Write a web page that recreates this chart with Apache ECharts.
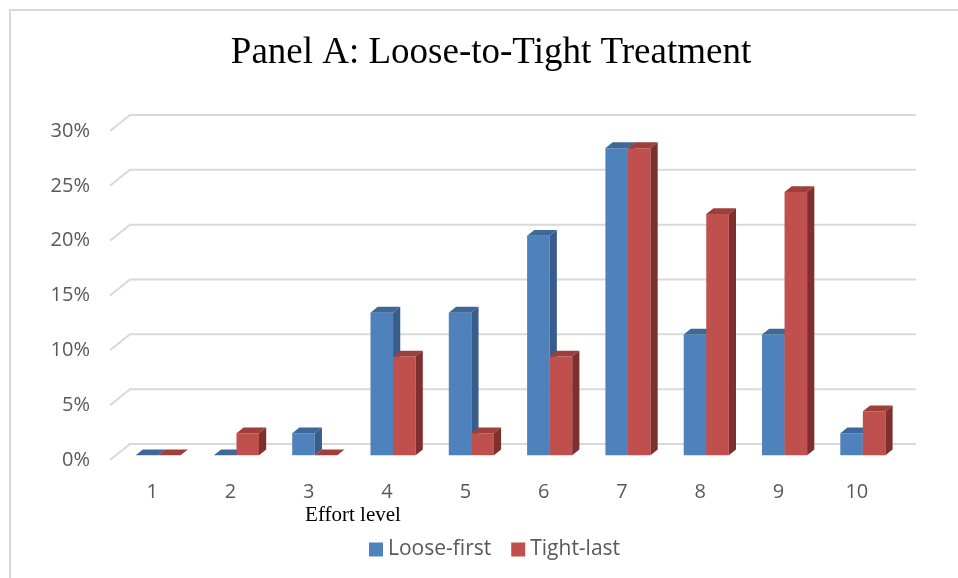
<!DOCTYPE html>
<html>
<head>
<meta charset="utf-8">
<script src="https://cdn.jsdelivr.net/npm/echarts@6/dist/echarts.min.js"></script>
<style>
  html, body { margin: 0; padding: 0; background: #fff; }
  #chart { width: 958px; height: 578px; }
</style>
</head>
<body>
<div id="chart"></div>
<script>
// effort levels and share of subjects (percent)
const categories = ['1', '2', '3', '4', '5', '6', '7', '8', '9', '10'];
const looseFirst = [0, 0, 2, 13, 13, 20, 28, 11, 11, 2];
const tightLast = [0, 2, 0, 9, 2, 9, 28, 22, 24, 4];
const yTicks = [0, 5, 10, 15, 20, 25, 30];

// depth of the fake 3d floor (Excel style)
const DEPTH = [20, -16];

const chart = echarts.init(document.getElementById('chart'));

// back wall gridlines + left wall diagonals
function renderGrid(params, api) {
  const p = api.coord([0, api.value(1)]);
  const bw = api.size([1, 0])[0];
  const left = p[0] - bw / 2 - 3;
  const right = p[0] - bw / 2 + bw * categories.length;
  return {
    type: 'polyline',
    shape: {
      points: [
        [left, p[1]],
        [left + DEPTH[0], p[1] + DEPTH[1]],
        [right + DEPTH[0], p[1] + DEPTH[1]]
      ]
    },
    style: { stroke: '#d9d9d9', lineWidth: 2, fill: null },
    silent: true
  };
}

function makeBar(slot, front, top, side) {
  return function (params, api) {
    const i = api.value(0);
    const base = api.coord([i, 0]);
    const tip = api.coord([i, api.value(1)]);
    const bw = api.size([1, 0])[0];
    const w = bw * 0.288;
    const x0 = base[0] + slot * w + DEPTH[0] * 0.3;
    const y0 = base[1] + DEPTH[1] * 0.3;
    const yt = tip[1] + DEPTH[1] * 0.3;
    const dx = DEPTH[0] * 0.36, dy = DEPTH[1] * 0.36;
    return {
      type: 'group',
      children: [
        {
          type: 'rect',
          shape: { x: x0, y: yt, width: w, height: y0 - yt },
          style: { fill: front }
        },
        {
          type: 'polygon',
          shape: { points: [[x0, yt], [x0 + w, yt], [x0 + w + dx, yt + dy], [x0 + dx, yt + dy]] },
          style: { fill: top }
        },
        {
          type: 'polygon',
          shape: { points: [[x0 + w, yt], [x0 + w + dx, yt + dy], [x0 + w + dx, y0 + dy], [x0 + w, y0]] },
          style: { fill: side }
        }
      ]
    };
  };
}

const labelFont = { fontFamily: 'Open Sans', fontSize: 20, color: '#595959' };

chart.setOption({
  animation: false,
  backgroundColor: '#fff',
  grid: { left: 113, right: 62, top: 131, bottom: 118 },
  xAxis: {
    type: 'category',
    data: categories,
    axisLine: { show: false },
    axisTick: { show: false },
    axisLabel: Object.assign({ margin: 22 }, labelFont)
  },
  yAxis: {
    type: 'value',
    min: 0,
    max: 30,
    interval: 5,
    splitLine: { show: false },
    axisLine: { show: false },
    axisTick: { show: false },
    axisLabel: Object.assign({ margin: 23, formatter: '{value}%' }, labelFont)
  },
  legend: {
    data: ['Loose-first', 'Tight-last'],
    left: 364,
    top: 534,
    icon: 'rect',
    itemWidth: 14,
    itemHeight: 14,
    itemGap: 20,
    textStyle: { fontFamily: 'Open Sans', fontSize: 21, color: '#595959' }
  },
  graphic: [
    {
      type: 'rect',
      shape: { x: 10, y: 10, width: 970, height: 600 },
      style: { fill: null, stroke: '#d9d9d9', lineWidth: 2 },
      silent: true
    },
    {
      type: 'text',
      style: {
        x: 491, y: 53, text: 'Panel A: Loose-to-Tight Treatment',
        textAlign: 'center', textVerticalAlign: 'middle',
        fontFamily: 'Liberation Serif', fontSize: 37, fill: '#000'
      }
    },
    {
      type: 'text',
      style: {
        x: 353, y: 515, text: 'Effort level',
        textAlign: 'center', textVerticalAlign: 'middle',
        fontFamily: 'Liberation Serif', fontSize: 21, fill: '#000'
      }
    }
  ],
  series: [
    {
      type: 'custom',
      name: 'grid',
      clip: false,
      z: 1,
      renderItem: renderGrid,
      data: yTicks.map(v => [0, v])
    },
    {
      type: 'custom',
      name: 'Loose-first',
      clip: false,
      z: 2,
      itemStyle: { color: '#4F81BD' },
      renderItem: makeBar(-1, '#4F81BD', '#3D6898', '#385D8A'),
      data: looseFirst.map((v, i) => [i, v])
    },
    {
      type: 'custom',
      name: 'Tight-last',
      clip: false,
      z: 3,
      itemStyle: { color: '#C0504D' },
      renderItem: makeBar(0, '#C0504D', '#9E3F3C', '#7F302E'),
      data: tightLast.map((v, i) => [i, v])
    }
  ]
});
</script>
</body>
</html>
